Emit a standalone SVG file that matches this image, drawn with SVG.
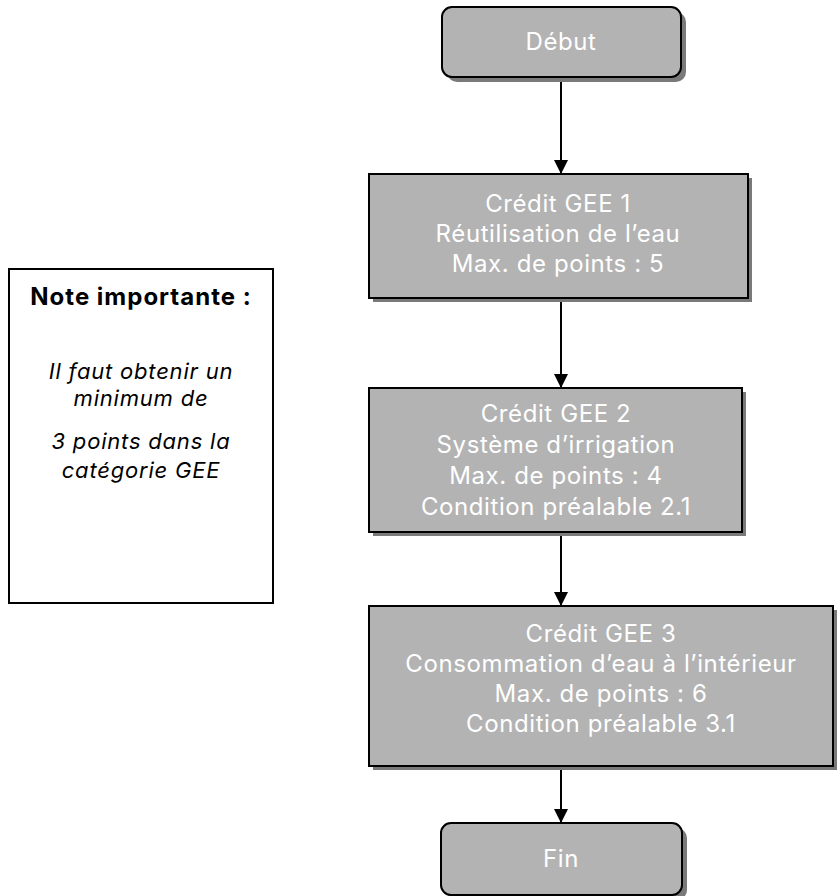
<svg xmlns="http://www.w3.org/2000/svg" width="840" height="896" viewBox="0 0 840 896">
<defs>
<style>
.box{fill:#b3b3b3;stroke:#000;stroke-width:2}
.sh{fill:#7a7a7a}
.t{font-family:Inter,"Open Sans",sans-serif;font-size:24px;letter-spacing:0.6px;fill:#fff;text-anchor:middle}
.n{font-family:Inter,"Open Sans",sans-serif;font-size:22px;letter-spacing:0.8px;fill:#000;text-anchor:middle}
.c{stroke:#000;stroke-width:2;fill:none;marker-end:url(#ah)}
</style>
<marker id="ah" viewBox="0 0 14 14" refX="14" refY="7" markerWidth="14" markerHeight="14" markerUnits="userSpaceOnUse" orient="auto">
<path d="M0,0 L14,7 L0,14 Z" fill="#000"/>
</marker>
</defs>
<rect width="840" height="896" fill="#fff"/>
<g id="connectors">
<line class="c" x1="561" y1="78" x2="561" y2="174"/>
<line class="c" x1="561" y1="298" x2="561" y2="388"/>
<line class="c" x1="561" y1="532" x2="561" y2="606"/>
<line class="c" x1="561" y1="766" x2="561" y2="823"/>
</g>
<g id="debut">
<rect class="sh" x="447" y="12" width="239" height="70" rx="10"/>
<rect class="box" x="442" y="7" width="239" height="70" rx="10"/>
<text class="t" x="561" y="50">Début</text>
</g>
<g id="gee1">
<rect class="sh" x="373" y="178" width="379" height="124"/>
<rect class="box" x="369" y="174" width="379" height="124"/>
<text class="t" x="558" y="212">Crédit GEE 1</text>
<text class="t" x="558" y="242">Réutilisation de l’eau</text>
<text class="t" x="558" y="272">Max. de points : 5</text>
</g>
<g id="gee2">
<rect class="sh" x="373" y="392" width="373" height="144"/>
<rect class="box" x="369" y="388" width="373" height="144"/>
<text class="t" x="556" y="422">Crédit GEE 2</text>
<text class="t" x="556" y="453">Système d’irrigation</text>
<text class="t" x="556" y="484">Max. de points : 4</text>
<text class="t" x="556" y="515">Condition préalable 2.1</text>
</g>
<g id="gee3">
<rect class="sh" x="373" y="610" width="464" height="160"/>
<rect class="box" x="369" y="606" width="464" height="160"/>
<text class="t" x="601" y="642">Crédit GEE 3</text>
<text class="t" x="601" y="672">Consommation d’eau à l’intérieur</text>
<text class="t" x="601" y="702">Max. de points : 6</text>
<text class="t" x="601" y="732">Condition préalable 3.1</text>
</g>
<g id="fin">
<rect class="sh" x="446" y="828" width="241" height="72" rx="10"/>
<rect class="box" x="441" y="823" width="241" height="72" rx="10"/>
<text class="t" x="561" y="867">Fin</text>
</g>
<g id="note">
<rect x="9" y="269" width="264" height="334" fill="#fff" stroke="#000" stroke-width="2"/>
<text class="n" x="141" y="305" font-weight="bold" style="font-size:24px;letter-spacing:1px">Note importante :</text>
<text class="n" x="141" y="379" font-style="italic">Il faut obtenir un</text>
<text class="n" x="141" y="406" font-style="italic">minimum de</text>
<text class="n" x="141" y="449" font-style="italic">3 points dans la</text>
<text class="n" x="141" y="478" font-style="italic">catégorie GEE</text>
</g>
</svg>
